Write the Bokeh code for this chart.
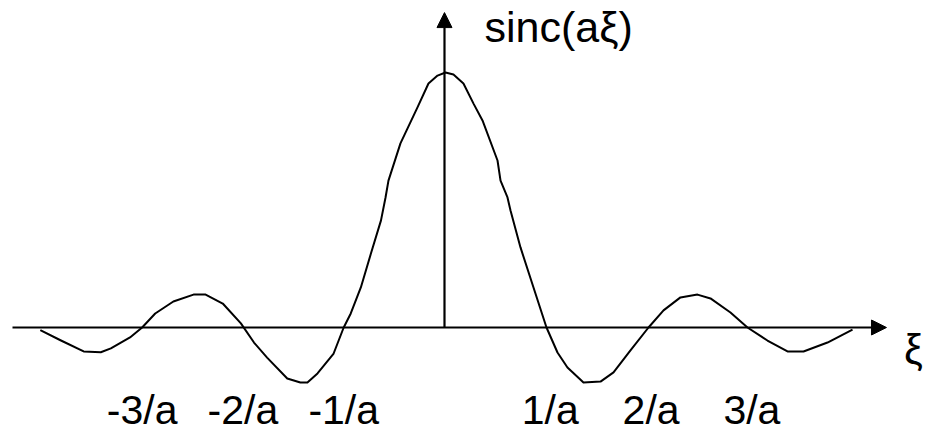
from bokeh.plotting import figure
from bokeh.models import Arrow, NormalHead, ColumnDataSource
from bokeh.core.properties import value
from bokeh.embed import file_html
from bokeh.resources import INLINE

# Traced sinc(a*xi) curve: xi in units of 1/a, amplitude normalised to 1 at the peak
xi = [-4.01, -3.81, -3.58, -3.41, -3.31, -3.12, -3.00, -2.87, -2.69, -2.49,
      -2.37, -2.20, -2.02, -1.89, -1.76, -1.56, -1.43, -1.36, -1.26, -1.10,
      -1.00, -0.93, -0.83, -0.73, -0.63, -0.585, -0.556, -0.437, -0.268, -0.159,
      -0.069, 0.010, 0.089, 0.188, 0.288, 0.377, 0.526, 0.556, 0.625, 0.655,
      0.754, 0.883, 1.012, 1.121, 1.220, 1.379, 1.548, 1.677, 1.845, 2.024,
      2.173, 2.341, 2.510, 2.639, 2.837, 3.006, 3.204, 3.403, 3.562, 3.800,
      4.048]
sinc_vals = [-0.01, -0.05, -0.094, -0.097, -0.082, -0.039, 0.0, 0.055, 0.102, 0.129,
             0.129, 0.094, 0.016, -0.059, -0.118, -0.200, -0.216, -0.216, -0.180, -0.102,
             0.0, 0.055, 0.157, 0.290, 0.420, 0.510, 0.576, 0.722, 0.863, 0.957,
             0.988, 1.0, 0.992, 0.957, 0.878, 0.812, 0.655, 0.576, 0.510, 0.459,
             0.314, 0.157, 0.0, -0.098, -0.157, -0.216, -0.212, -0.176, -0.090, 0.0,
             0.067, 0.118, 0.129, 0.114, 0.059, 0.0, -0.051, -0.094, -0.094, -0.059,
             -0.008]

tick_values = [-3, -2, -1, 1, 2, 3]
tick_labels = ["-3/a", "-2/a", "-1/a", "1/a", "2/a", "3/a"]

y_title = "sinc(aξ)"
x_title = "ξ"

# axis extents (data units)
X_AXIS_START, X_AXIS_END = -4.286, 4.385
Y_AXIS_END = 1.235

FONT = "Liberation Sans"

p = figure(width=927, height=433, output_backend="svg", toolbar_location=None,
           x_range=(-4.405, 4.792), y_range=(-0.4157, 1.2824),
           min_border=0, min_border_left=0, min_border_right=0,
           min_border_top=0, min_border_bottom=0)
p.axis.visible = False
p.grid.visible = False
p.outline_line_color = None
p.background_fill_color = "white"
p.border_fill_color = "white"

# coordinate axes drawn as arrows through the origin
head_x = NormalHead(size=15, fill_color="black", line_color="black", line_width=1)
head_y = NormalHead(size=15, fill_color="black", line_color="black", line_width=1)
p.add_layout(Arrow(end=head_x, x_start=X_AXIS_START, y_start=0, x_end=X_AXIS_END, y_end=0,
                   line_color="black", line_width=2.2))
p.add_layout(Arrow(end=head_y, x_start=0, y_start=0, x_end=0, y_end=Y_AXIS_END,
                   line_color="black", line_width=2.2))

# the curve
src = ColumnDataSource(dict(x=xi, y=sinc_vals))
p.line("x", "y", source=src, line_color="black", line_width=2, line_join="round")

# tick labels below the axis
lab_src = ColumnDataSource(dict(
    x=tick_values, y=[0] * len(tick_values), text=tick_labels,
    xo=[0 if t < 0 else 5 for t in tick_values]))
p.text("x", "y", text="text", source=lab_src, x_offset="xo", y_offset=82,
       text_align="center", text_baseline="alphabetic",
       text_font=value(FONT), text_font_size="41px", text_color="black")

# axis titles
p.text(x=[0], y=[Y_AXIS_END], text=[y_title], x_offset=40, y_offset=14,
       text_align="left", text_baseline="alphabetic",
       text_font=value(FONT), text_font_size="43px", text_color="black")
p.text(x=[X_AXIS_END], y=[0], text=[x_title], x_offset=27, y_offset=22,
       text_align="center", text_baseline="alphabetic",
       text_font=value(FONT), text_font_size="42px", text_color="black")

open("out.html", "w").write(file_html(p, INLINE))
